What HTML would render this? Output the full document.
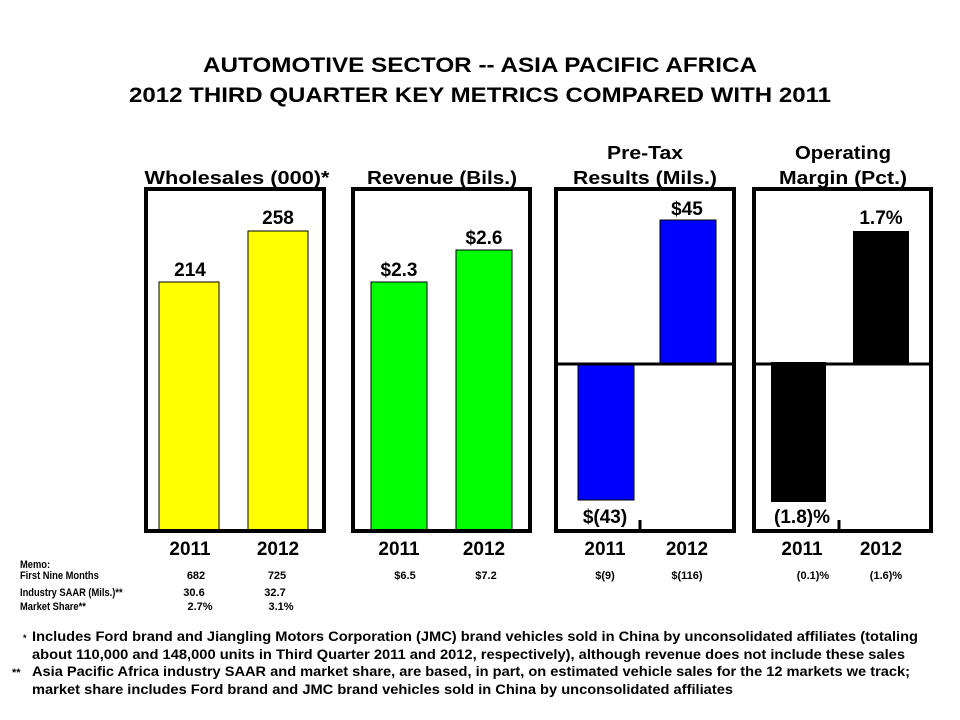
<!DOCTYPE html>
<html><head><meta charset="utf-8"><style>
body{margin:0;background:#fff}
svg{display:block}
text{font-family:"Liberation Sans",Arial,sans-serif;font-weight:bold;fill:#000}
</style></head><body>
<svg width="960" height="720" viewBox="0 0 960 720" xmlns="http://www.w3.org/2000/svg">
<rect width="960" height="720" fill="#fff"/>
<text x="480" y="72" font-size="21" text-anchor="middle" textLength="554" lengthAdjust="spacingAndGlyphs">AUTOMOTIVE SECTOR -- ASIA PACIFIC AFRICA</text>
<text x="480" y="102" font-size="21" text-anchor="middle" textLength="702" lengthAdjust="spacingAndGlyphs">2012 THIRD QUARTER KEY METRICS COMPARED WITH 2011</text>

<g font-size="18" text-anchor="middle">
<text x="237" y="184" textLength="185" lengthAdjust="spacingAndGlyphs">Wholesales (000)*</text>
<text x="442" y="184" textLength="150" lengthAdjust="spacingAndGlyphs">Revenue (Bils.)</text>
<text x="645" y="159" textLength="76" lengthAdjust="spacingAndGlyphs">Pre-Tax</text>
<text x="645" y="184" textLength="144" lengthAdjust="spacingAndGlyphs">Results (Mils.)</text>
<text x="843" y="159" textLength="96" lengthAdjust="spacingAndGlyphs">Operating</text>
<text x="843" y="184" textLength="128" lengthAdjust="spacingAndGlyphs">Margin (Pct.)</text>
</g>

<rect x="159" y="282" width="60" height="250" fill="#ffff00" stroke="#000" stroke-width="1"/>
<rect x="248" y="231" width="60" height="301" fill="#ffff00" stroke="#000" stroke-width="1"/>
<rect x="371" y="282" width="56" height="250" fill="#00ff00" stroke="#000" stroke-width="1"/>
<rect x="456" y="250" width="56" height="282" fill="#00ff00" stroke="#000" stroke-width="1"/>
<rect x="578" y="364" width="56" height="136" fill="#0000ff" stroke="#000" stroke-width="1"/>
<rect x="660" y="220" width="56" height="144" fill="#0000ff" stroke="#000" stroke-width="1"/>
<rect x="771" y="362" width="55" height="140" fill="#000"/>
<rect x="853" y="231" width="56" height="133" fill="#000"/>

<g fill="none" stroke="#000" stroke-width="4">
<rect x="146" y="189" width="178" height="342"/>
<rect x="353" y="189" width="177" height="342"/>
<rect x="556" y="189" width="178" height="342"/>
<rect x="754" y="189" width="177" height="342"/>
</g>
<g stroke="#000" stroke-width="3">
<line x1="556" y1="364" x2="734" y2="364"/>
<line x1="754" y1="364" x2="931" y2="364"/>
<line x1="640" y1="520" x2="640" y2="531"/>
<line x1="839" y1="520" x2="839" y2="531"/>
</g>

<g font-size="19" text-anchor="middle">
<text x="190" y="276">214</text>
<text x="278" y="224">258</text>
<text x="399" y="276">$2.3</text>
<text x="484" y="244">$2.6</text>
<text x="687" y="215">$45</text>
<text x="605" y="523">$(43)</text>
<text x="881" y="224">1.7%</text>
<text x="802" y="523">(1.8)%</text>
</g>

<g font-size="19" text-anchor="middle">
<text x="190" y="555">2011</text>
<text x="278" y="555">2012</text>
<text x="399" y="555">2011</text>
<text x="484" y="555">2012</text>
<text x="605" y="555">2011</text>
<text x="687" y="555">2012</text>
<text x="802" y="555">2011</text>
<text x="881" y="555">2012</text>
</g>

<g font-size="11">
<text x="20" y="568" transform="translate(20,0) scale(0.85,1) translate(-20,0)">Memo:</text>
<text x="20" y="579" transform="translate(20,0) scale(0.85,1) translate(-20,0)">First Nine Months</text>
<text x="20" y="596" transform="translate(20,0) scale(0.85,1) translate(-20,0)">Industry SAAR (Mils.)**</text>
<text x="20" y="610" transform="translate(20,0) scale(0.85,1) translate(-20,0)">Market Share**</text>
</g>
<g font-size="11" text-anchor="middle">
<text x="196" y="579">682</text>
<text x="277" y="579">725</text>
<text x="405" y="579">$6.5</text>
<text x="486" y="579">$7.2</text>
<text x="605" y="579">$(9)</text>
<text x="687" y="579">$(116)</text>
<text x="813" y="579">(0.1)%</text>
<text x="886" y="579">(1.6)%</text>
<text x="194" y="596">30.6</text>
<text x="275" y="596">32.7</text>
<text x="200" y="610">2.7%</text>
<text x="281" y="610">3.1%</text>
</g>

<g font-size="14">
<text x="23" y="641" font-size="9">*</text>
<text x="32" y="641" textLength="886" lengthAdjust="spacingAndGlyphs">Includes Ford brand and Jiangling Motors Corporation (JMC) brand vehicles sold in China by unconsolidated affiliates (totaling</text>
<text x="32" y="659" textLength="873" lengthAdjust="spacingAndGlyphs">about 110,000 and 148,000 units in Third Quarter 2011 and 2012, respectively), although revenue does not include these sales</text>
<text x="12" y="676" font-size="11">**</text>
<text x="32" y="676" textLength="878" lengthAdjust="spacingAndGlyphs">Asia Pacific Africa industry SAAR  and market share, are based, in part, on estimated vehicle sales for the 12 markets we track;</text>
<text x="32" y="694" textLength="701" lengthAdjust="spacingAndGlyphs">market share includes Ford brand and JMC brand vehicles sold in China by unconsolidated affiliates</text>
</g>
</svg>
</body></html>
